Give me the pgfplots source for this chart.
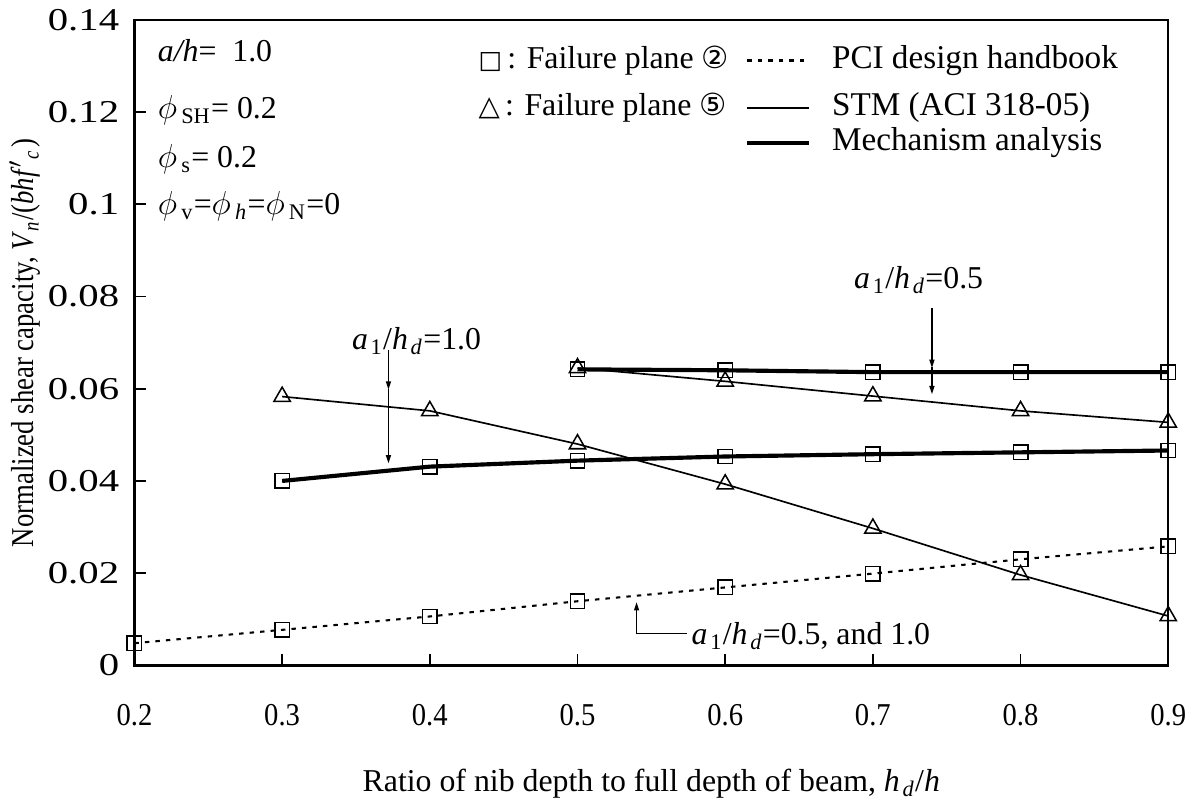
\documentclass[border=0pt]{standalone}
\usepackage{pgfplots}
\pgfplotsset{compat=1.18}
\usepackage{fontspec}
\setmainfont{Liberation Serif}
\newfontfamily\symfont{DejaVu Sans}
\newfontfamily\widefont[FakeStretch=1.28]{Liberation Serif}
\newfontfamily\narrowfont[FakeStretch=0.9]{Liberation Serif}
\newfontfamily\condfont[FakeStretch=0.84,ItalicFont=Liberation Serif Italic,ItalicFeatures={FakeStretch=0.84}]{Liberation Serif}
\usetikzlibrary{arrows.meta}
\newcommand{\fs}{\fontsize{11.5}{13}\selectfont}
\newcommand{\fl}{\fontsize{12}{14}\selectfont}
\begin{document}
\begin{tikzpicture}
\path[use as bounding box] (-48.6pt,-51.8pt) rectangle (381.2pt,240.5pt);
\begin{axis}[
  at={(0pt,0pt)}, anchor=south west,
  scale only axis, width=373.7pt, height=233.3pt,
  xmin=0.2, xmax=0.9, ymin=0, ymax=0.14,
  xtick={0.2,0.3,0.4,0.5,0.6,0.7,0.8,0.9},
  xticklabels={0.2,0.3,0.4,0.5,0.6,0.7,0.8,0.9},
  ytick={0,0.02,0.04,0.06,0.08,0.1,0.12,0.14},
  yticklabels={0,0.02,0.04,0.06,0.08,0.1,0.12,0.14},
  tick align=inside, xtick pos=bottom, ytick pos=left,
  major tick length=4pt,
  axis line style={line width=0.9pt},
  tick style={line width=0.6pt, black},
  xticklabel style={font=\narrowfont\fs, anchor=center, yshift=-18pt},
  yticklabel style={font=\widefont\fs, xshift=-2pt},
  xlabel={Ratio of nib depth to full depth of beam, \textit{h}\kern1pt\textsubscript{\textit{d}}/\textit{h}},
  ylabel={Normalized shear capacity, \textit{V}\textsubscript{\textit{n}}/(\textit{bhf}$'$\textsubscript{\textit{c}}\kern1pt)},
  xlabel style={font=\fs, at={(axis description cs:0.5,-0.184)}, anchor=center},
  ylabel style={font=\condfont\fs, at={(axis description cs:-0.106,0.5)}, anchor=center},
  clip=false,
]
% PCI design handbook (a1/hd = 0.5 and 1.0)
\addplot[black, line width=0.75pt, dash pattern=on 1.6pt off 2.2pt,
  mark=square, mark size=2.6pt, mark options={solid, line width=0.55pt, fill=none}]
  coordinates {(0.2,0.0048) (0.3,0.0077) (0.4,0.0106) (0.5,0.0139) (0.6,0.0169) (0.7,0.0199) (0.8,0.0230) (0.9,0.0258)};
% Mechanism analysis a1/hd = 1.0
\addplot[black, line width=1.5pt,
  mark=square, mark size=2.6pt, mark options={solid, line width=0.55pt, fill=none}]
  coordinates {(0.3,0.0400) (0.4,0.0431) (0.5,0.0444) (0.6,0.0453) (0.7,0.0458) (0.8,0.0462) (0.9,0.0466)};
% Mechanism analysis a1/hd = 0.5
\addplot[black, line width=1.5pt,
  mark=square, mark size=2.6pt, mark options={solid, line width=0.55pt, fill=none}]
  coordinates {(0.5,0.0642) (0.6,0.0640) (0.7,0.0636) (0.8,0.0636) (0.9,0.0636)};
% STM a1/hd = 1.0
\addplot[black, line width=0.6pt,
  mark=triangle, mark size=3.4pt, mark options={solid, line width=0.55pt, fill=none}]
  coordinates {(0.3,0.0583) (0.4,0.0552) (0.5,0.0480) (0.6,0.0393) (0.7,0.0297) (0.8,0.0196) (0.9,0.0107)};
% STM a1/hd = 0.5
\addplot[black, line width=0.6pt,
  mark=triangle, mark size=3.4pt, mark options={solid, line width=0.55pt, fill=none}]
  coordinates {(0.5,0.0645) (0.6,0.0616) (0.7,0.0584) (0.8,0.0552) (0.9,0.0527)};

% annotations
\draw[line width=0.55pt, -{Triangle[length=3pt,width=1.8pt]}] (axis cs:0.372,0.0683) -- (axis cs:0.372,0.0598);
\draw[line width=0.55pt, -{Triangle[length=3pt,width=1.8pt]}] (axis cs:0.372,0.0600) -- (axis cs:0.372,0.0438);
\node[font=\fs] at (axis cs:0.391,0.0704) {\textit{a}\kern1pt\textsubscript{1}/\textit{h}\kern1pt\textsubscript{\textit{d}}=1.0};
\draw[line width=0.55pt, -{Triangle[length=3pt,width=1.8pt]}] (axis cs:0.740,0.0776) -- (axis cs:0.740,0.0645);
\draw[line width=0.55pt, -{Triangle[length=3pt,width=1.8pt]}] (axis cs:0.740,0.0647) -- (axis cs:0.740,0.0588);
\node[font=\fs] at (axis cs:0.731,0.0836) {\textit{a}\kern1pt\textsubscript{1}/\textit{h}\kern1pt\textsubscript{\textit{d}}=0.5};
\draw[line width=0.55pt, -{Triangle[length=3pt,width=1.8pt]}] (axis cs:0.574,0.0069) -- (axis cs:0.540,0.0069) -- (axis cs:0.540,0.0137);
\node[font=\fs, anchor=west, inner sep=1pt] at (axis cs:0.575,0.0063) {\textit{a}\kern1pt\textsubscript{1}/\textit{h}\kern1pt\textsubscript{\textit{d}}=0.5, and 1.0};

% parameter block
\node[font=\fs, anchor=west, inner sep=0pt] at (axis cs:0.2155,0.1333) {\textit{a/h}= \ 1.0};
\node[font=\fs, anchor=west, inner sep=0pt] at (axis cs:0.2155,0.1205) {$\phi$\kern1.5pt\textsubscript{SH}= 0.2};
\node[font=\fs, anchor=west, inner sep=0pt] at (axis cs:0.2155,0.1097) {$\phi$\kern1.5pt\textsubscript{s}= 0.2};
\node[font=\fs, anchor=west, inner sep=0pt] at (axis cs:0.2155,0.0996) {$\phi$\kern1.5pt\textsubscript{v}=$\phi$\kern1.5pt\textsubscript{\textit{h}}=$\phi$\kern1.5pt\textsubscript{N}=0};

% legend
\node[font=\fs, anchor=west, inner sep=0pt] at (axis cs:0.4326,0.1312) {{\symfont\fontsize{9}{10}\selectfont □}\,: Failure plane {\symfont\fontsize{11}{10}\selectfont ②}};
\node[font=\fs, anchor=west, inner sep=0pt] at (axis cs:0.4326,0.1209) {{\symfont\fontsize{10}{10}\selectfont △}\,: Failure plane {\symfont\fontsize{11}{10}\selectfont ⑤}};
\draw[line width=0.75pt, dash pattern=on 1.6pt off 2.2pt] (axis cs:0.615,0.1312) -- (axis cs:0.657,0.1312);
\draw[line width=0.6pt] (axis cs:0.615,0.1209) -- (axis cs:0.657,0.1209);
\draw[line width=1.5pt] (axis cs:0.615,0.1133) -- (axis cs:0.657,0.1133);
\node[font=\fl, anchor=west, inner sep=0pt] at (axis cs:0.672,0.1312) {PCI design handbook};
\node[font=\fl, anchor=west, inner sep=0pt] at (axis cs:0.672,0.1209) {STM (ACI 318-05)};
\node[font=\fl, anchor=west, inner sep=0pt] at (axis cs:0.672,0.1133) {Mechanism analysis};
\end{axis}
\end{tikzpicture}
\end{document}
